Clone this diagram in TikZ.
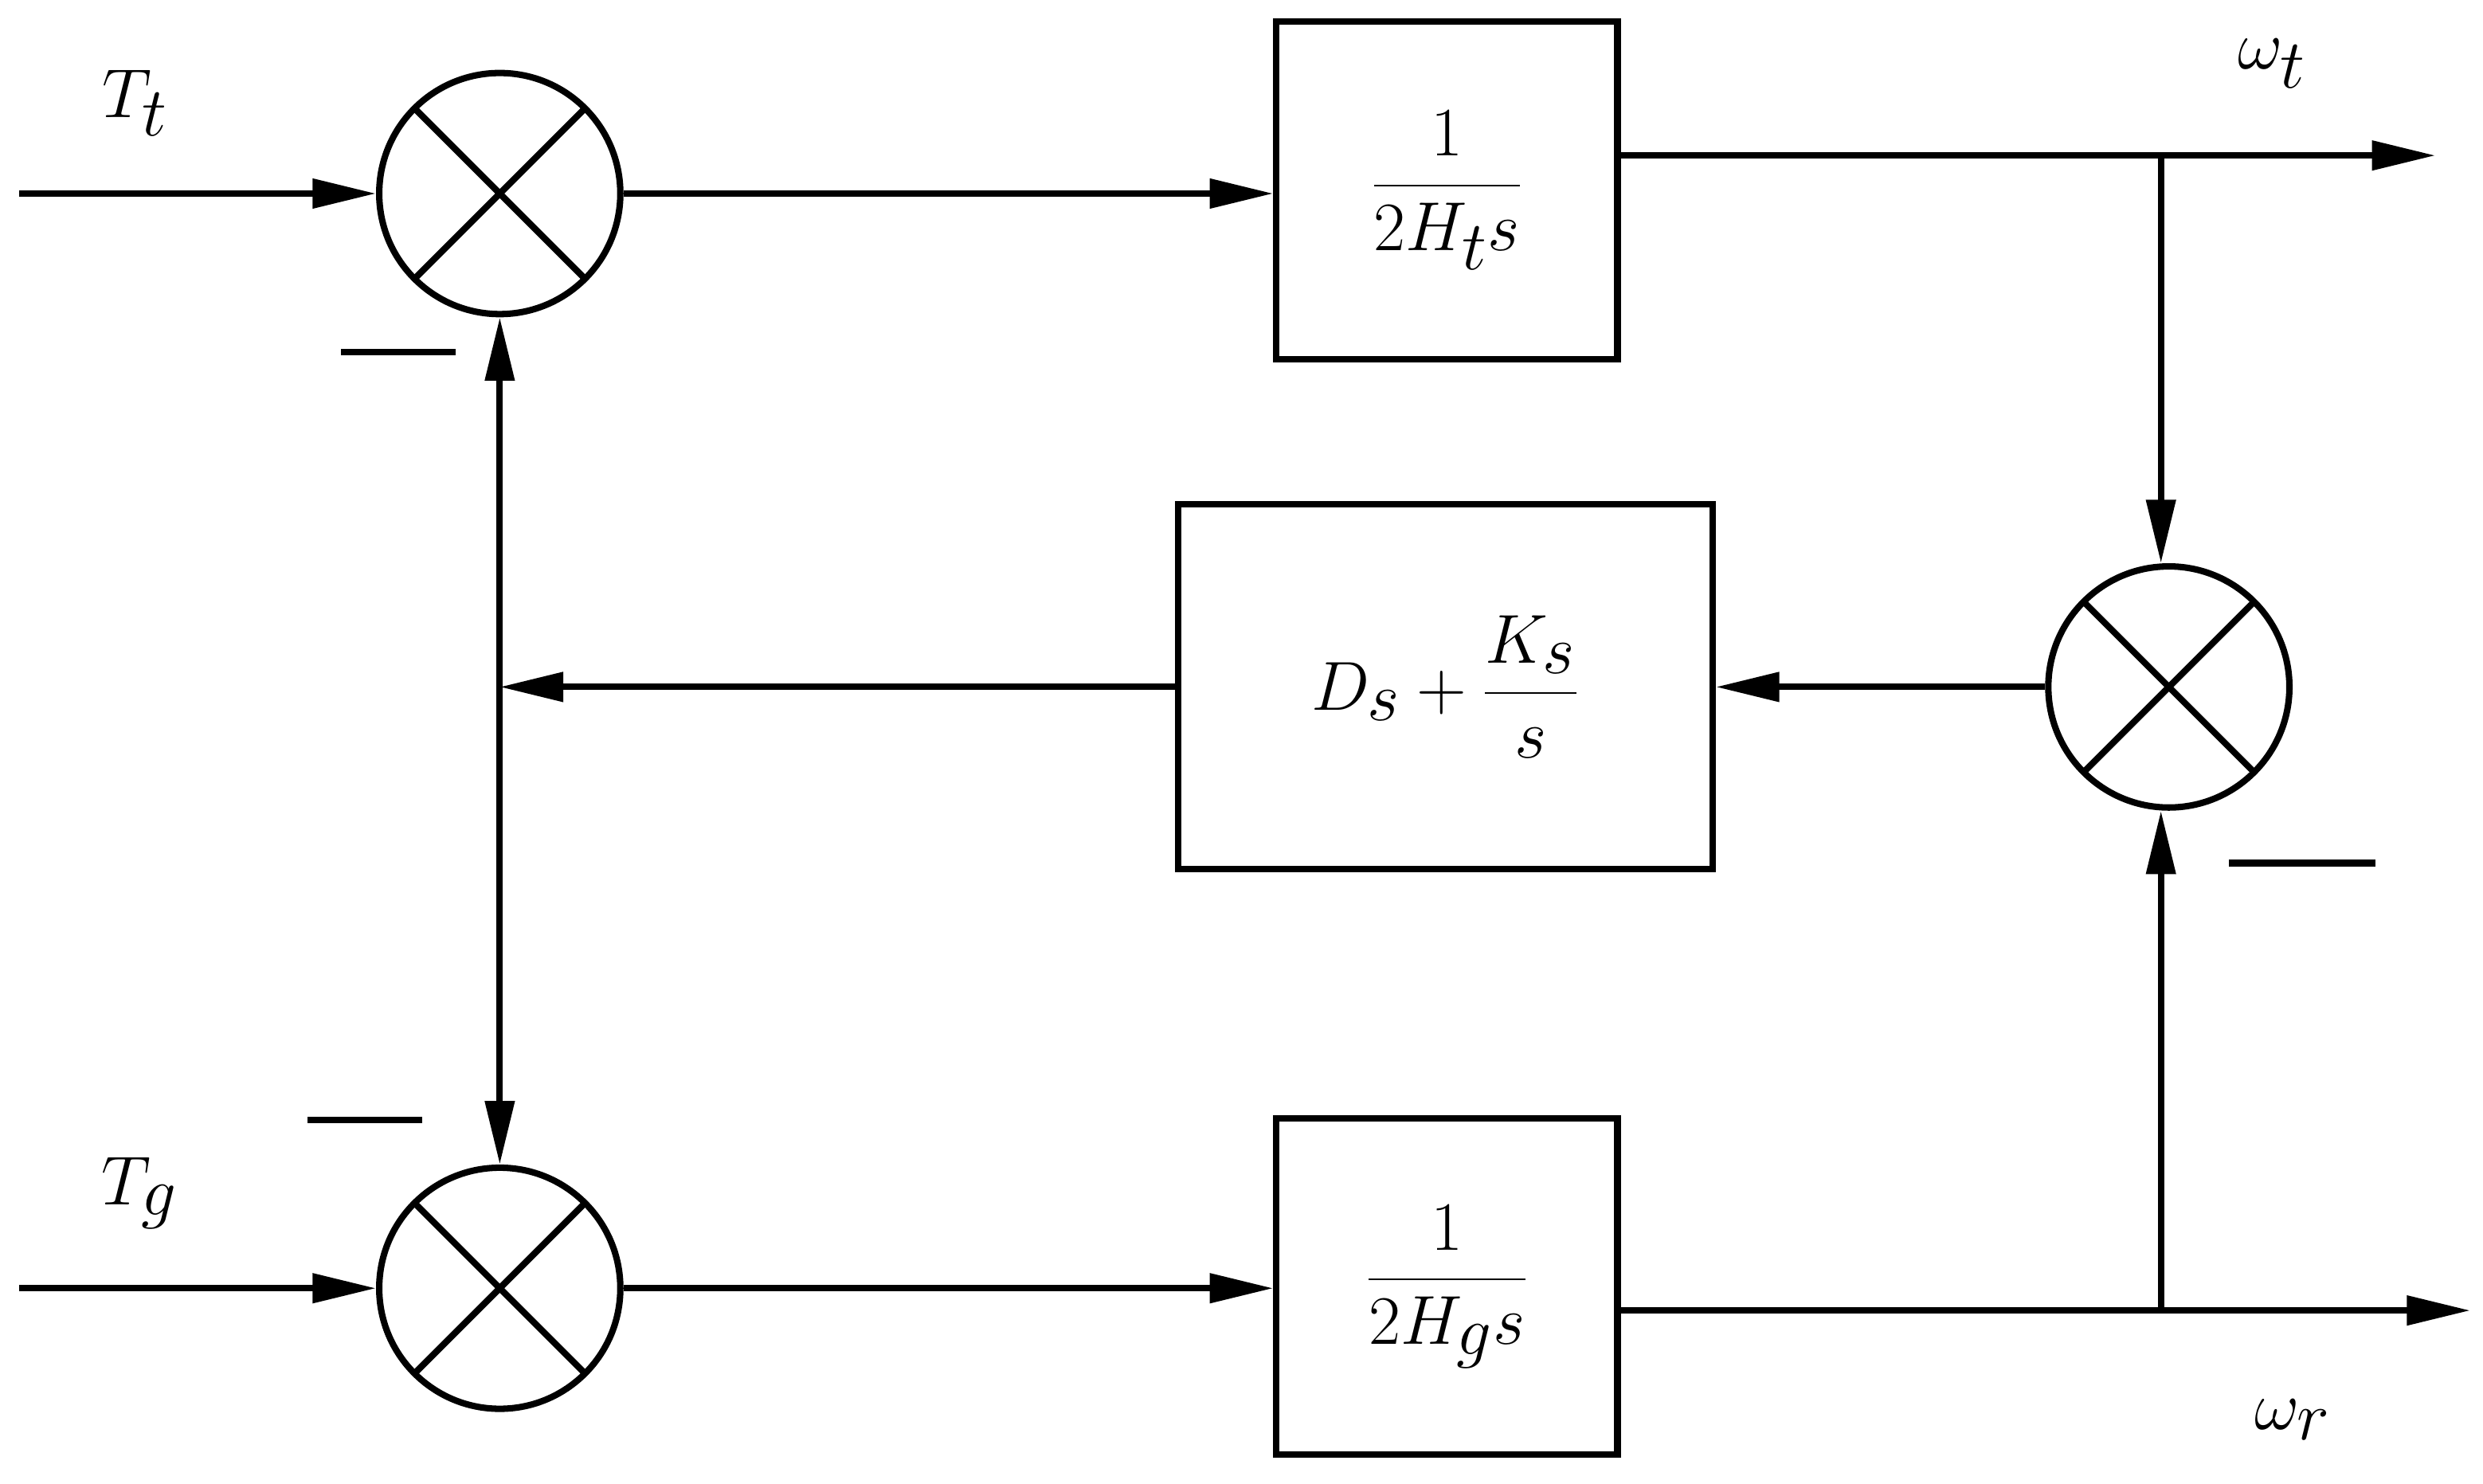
\documentclass[tikz,border=0pt]{standalone}
\usetikzlibrary{arrows.meta}

\tikzset{
    sig/.style={line width=2.3pt,-{Triangle[length=0.8cm,width=0.36cm]}},
    line/.style={line width=2.3pt},
    blk/.style={draw,line width=2.3pt,rectangle,inner sep=0pt,font=\fontsize{38}{44}\selectfont},
    summer/.style={draw,line width=2.3pt,circle,minimum size=3.04cm,inner sep=0pt,
        path picture={
            \draw[line width=2.3pt] (path picture bounding box.south west) -- (path picture bounding box.north east)
                (path picture bounding box.north west) -- (path picture bounding box.south east);
        }},
    lab/.style={font=\fontsize{40}{48}\selectfont},
    minus/.style={line width=2.3pt}
}

\begin{document}
\begin{tikzpicture}[x=0.02cm,y=-0.02cm]
    \useasboundingbox (0,0) rectangle (1565,935);
    % Summing points
    \node[summer] (s1) at (315,122) {};
    \node[summer] (s2) at (315,812) {};
    \node[summer] (s3) at (1367,433) {};
    % Blocks
    \node[blk,minimum width=4.3cm,minimum height=4.26cm] (b1) at (912,120) {$\displaystyle\frac{1}{2H_t s}$};
    \node[blk,minimum width=4.3cm,minimum height=4.24cm] (b2) at (912,811) {$\displaystyle\frac{1}{2H_g s}$};
    \node[blk,minimum width=6.74cm,minimum height=4.6cm] (b3) at (911,433) {$\displaystyle D_s+\frac{K_s}{s}$};
    % Free ends
    \coordinate (inT) at (12,122);
    \coordinate (inG) at (12,812);
    \coordinate (outT) at (1535,98);
    \coordinate (outR) at (1557,826);
    \coordinate (jT) at (1362,98);
    \coordinate (jR) at (1362,826);
    \coordinate (jL) at (315,433);
    % Labels
    \node[lab] (lTt) at (85,65) {$T_t$};
    \node[lab] (lTg) at (88,752) {$T_g$};
    \node[lab] (lwt) at (1432,40) {$\omega_t$};
    \node[lab] (lwr) at (1445,895) {$\omega_r$};
    % Connectors
    \draw[sig] (inT) -- (s1.west);
    \draw[sig] (inG) -- (s2.west);
    \draw[sig] (s1.east) -- (b1.west |- s1.east);
    \draw[sig] (s2.east) -- (b2.west |- s2.east);
    \draw[sig] (b1.east |- outT) -- (outT);
    \draw[sig] (b2.east |- outR) -- (outR);
    \draw[sig] (jT) -- (s3.north -| jT);
    \draw[sig] (jR) -- (s3.south -| jR);
    \draw[sig] (s3.west) -- (b3.east |- s3.west);
    \draw[sig] (b3.west |- jL) -- (jL);
    \draw[sig] (jL) -- (s1.south);
    \draw[sig] (jL) -- (s2.north);
    % Minus signs
    \draw[minus] (215,222) -- (287,222);
    \draw[minus] (194,706) -- (266,706);
    \draw[minus] (1405,544) -- (1497,544);
\end{tikzpicture}
\end{document}
